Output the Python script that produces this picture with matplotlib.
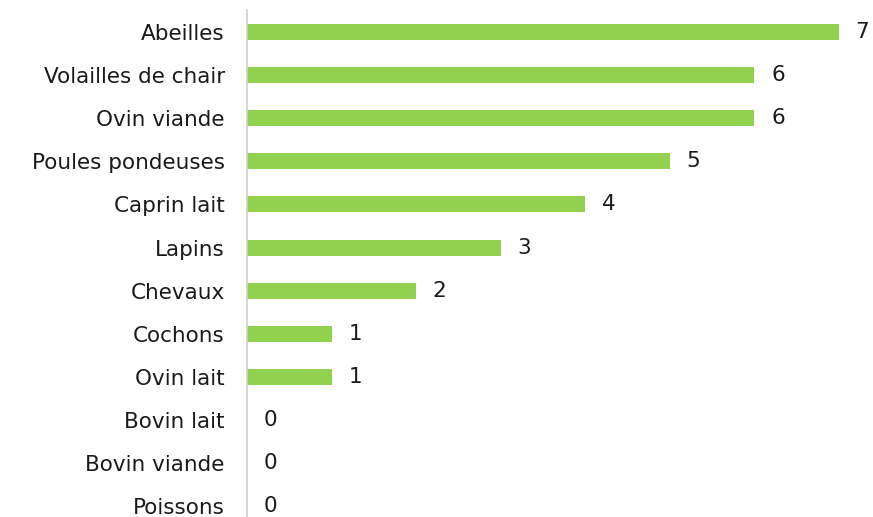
import matplotlib

matplotlib.use("Agg")
import matplotlib.pyplot as plt

categories = [
    "Abeilles",
    "Volailles de chair",
    "Ovin viande",
    "Poules pondeuses",
    "Caprin lait",
    "Lapins",
    "Chevaux",
    "Cochons",
    "Ovin lait",
    "Bovin lait",
    "Bovin viande",
    "Poissons",
]
values = [7, 6, 6, 5, 4, 3, 2, 1, 1, 0, 0, 0]

fig = plt.figure(figsize=(8.73, 5.17), dpi=100)
W, H = 873, 517
ax = fig.add_axes([247 / W, 0, (W - 247) / W, (517 - 10) / H])

pos = list(range(len(categories)))
ax.barh(pos, values, height=0.37, color="#92D050")
for y, v in zip(pos, values):
    ax.annotate(str(v), (v, y), xytext=(12, 0), textcoords="offset points",
                va="center", ha="left", fontsize=15.5, color="#1a1a1a")

ax.set_yticks(pos)
ax.set_yticklabels(categories, fontsize=15.5, color="#1a1a1a")
ax.tick_params(axis="y", length=0, pad=16)
ax.set_xticks([])
ax.set_xlim(0, (W - 247) / 84.57)
ax.set_ylim(11.25, -0.51)
for s in ["top", "right", "bottom"]:
    ax.spines[s].set_visible(False)
ax.spines["left"].set_color("#d0d0d0")
ax.spines["left"].set_linewidth(1.2)

fig.savefig("out.png", dpi=100)
